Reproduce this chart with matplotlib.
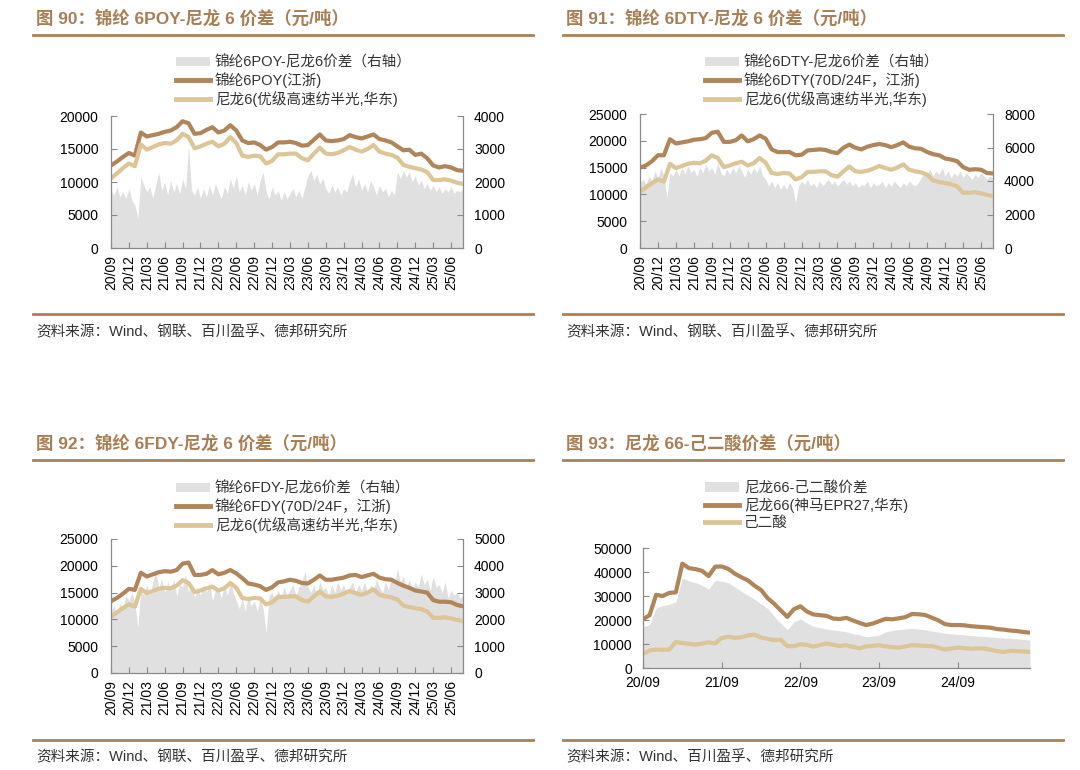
import numpy as np
import matplotlib.pyplot as plt
from matplotlib.patches import Patch
from matplotlib.lines import Line2D

plt.rcParams['font.family'] = ['Liberation Sans', 'Noto Sans CJK SC']

W, H = 1080, 770
BROWN = '#B0855A'
TAN = '#DCC597'
GREY = '#E0E0E0'
RULE = '#A98159'
TITLE_C = '#A87E55'
AXC = '#8A8A8A'
TXT = '#333333'

# tick labels
quarter_labels = ['20/09', '20/12', '21/03', '21/06', '21/09', '21/12', '22/03', '22/06',
                  '22/09', '22/12', '23/03', '23/06', '23/09', '23/12', '24/03', '24/06',
                  '24/09', '24/12', '25/03', '25/06']
year_labels = ['20/09', '21/09', '22/09', '23/09', '24/09']

# monthly prices, 20/09 .. 25/08 (yuan/t)
nylon6 = [10550, 11300, 12100, 12800, 12400, 15700, 14900, 15300, 15700, 15900, 15800, 16300,
          17300, 16800, 15100, 15400, 15800, 16100, 15400, 15800, 16800, 15900, 14000, 13800,
          14000, 13900, 12800, 13200, 14200, 14200, 14300, 14300, 13600, 13300, 14300, 15200,
          14300, 14200, 14400, 14800, 15300, 14900, 14600, 15000, 15600, 14600, 14300, 14100,
          13700, 12600, 12300, 12100, 11900, 11500, 10300, 10300, 10400, 10200, 9900, 9700]

poy = [12500, 13100, 13800, 14400, 14000, 17500, 16900, 17100, 17300, 17600, 17800, 18300,
       19200, 18900, 17300, 17400, 17900, 18300, 17500, 17800, 18600, 17800, 16300, 15900,
       16000, 15600, 14900, 15300, 16000, 16000, 16100, 15900, 15500, 15600, 16400, 17200,
       16300, 16200, 16300, 16500, 17100, 16800, 16600, 16900, 17200, 16500, 16300, 16000,
       15400, 14800, 14900, 14100, 14300, 13600, 12500, 12200, 12400, 12200, 11800, 11700]

dty = [15000, 15400, 16200, 17300, 17300, 20300, 19500, 19700, 19900, 20200, 20300, 20500,
       21500, 21700, 19800, 19800, 20100, 21000, 19900, 20300, 21000, 20400, 18400, 17900,
       17900, 17900, 17300, 17400, 18200, 18300, 18400, 18300, 17900, 17700, 18700, 19300,
       18700, 18400, 18900, 19200, 19400, 19200, 18800, 19200, 19700, 18900, 18600, 18500,
       17900, 17500, 17300, 16700, 16500, 16200, 15100, 14600, 14700, 14600, 14000, 13900]

fdy = [13400, 14000, 14800, 15700, 15500, 18700, 18000, 18400, 18800, 19000, 18900, 19200,
       20400, 20600, 18300, 18300, 18500, 19200, 18400, 18700, 19200, 18600, 17700, 16700,
       16500, 16200, 15500, 16000, 16900, 17100, 17400, 17200, 16800, 16700, 17400, 18200,
       17400, 17400, 17600, 17800, 18200, 18300, 17900, 18200, 18500, 17800, 17500, 17400,
       16800, 16300, 15900, 15400, 15200, 15000, 13600, 13300, 13300, 13200, 12700, 12450]

# half-monthly spreads (right axis)
poy_spread = [1750, 1600, 1850, 1550, 1700, 1500, 1800, 1450, 1300, 900, 2150, 1900,
              1700, 1850, 1500, 1900, 2300, 1750, 2000, 1600, 2050, 1700, 1950, 1650,
              2100, 1800, 3100, 1750, 1600, 1850, 1500, 1800, 1550, 1900, 1600, 1950,
              1700, 1500, 1850, 1650, 2100, 1800, 2200, 1700, 1900, 1600, 2000, 1750,
              1950, 1600, 2050, 2300, 1700, 1500, 1850, 1600, 1750, 1450, 1700, 1500,
              1650, 1800, 1550, 1750, 1500, 1850, 2200, 2350, 2050, 2250, 1950, 2100,
              1800, 1650, 1900, 1700, 1850, 1600, 1800, 1700, 2000, 2250, 1850, 2100,
              1750, 1950, 1700, 2050, 1850, 1600, 1900, 1700, 1800, 1550, 1750, 1600,
              2300, 2100, 2350, 2150, 2300, 2000, 2200, 1900, 2050, 1800, 1950, 1750,
              1900, 1700, 1850, 1650, 1800, 1700, 1850, 1650, 1750, 1700, 1800]

dty_spread = [3900, 4100, 3800, 4300, 4000, 4600, 4200, 4800, 4300, 3000, 4500, 4300,
              4700, 4300, 4800, 4400, 4900, 4500, 4700, 4300, 4800, 4500, 5000, 4600,
              4800, 4400, 5100, 4500, 4300, 4700, 4400, 4800, 4500, 4900, 4600, 4200,
              4700, 4400, 4800, 4500, 4900, 4300, 4100, 3700, 4000, 3600, 3900, 3500,
              3800, 3500, 3900, 3600, 2700, 3700, 4000, 3800, 4100, 3700, 3900, 3600,
              4000, 3700, 3900, 4100, 3800, 4000, 3700, 3900, 4100, 3800, 4000, 3700,
              3900, 3600, 3800, 3700, 4000, 3600, 3900, 3700, 3800, 4000, 3600, 3900,
              3700, 4000, 3800, 3600, 3900, 3700, 4000, 3800, 3700, 3900, 4200, 4500,
              4400, 4700, 4300, 4600, 4400, 4800, 4300, 4600, 4200, 4500, 4300, 4600,
              4200, 4500, 4300, 4100, 4400, 4200, 4500, 4300, 4100, 4300, 4200]

fdy_spread = [2300, 2500, 2200, 2600, 2400, 2900, 2700, 3000, 2600, 1700, 3100, 2900,
              3300, 2900, 3400, 3800, 3200, 3500, 3000, 3400, 3100, 3500, 2900, 3300,
              3200, 3700, 3000, 3400, 2800, 3200, 2900, 3300, 3000, 3400, 2700, 3100,
              3200, 2800, 3300, 2900, 3400, 3000, 2700, 2400, 2800, 2300, 2900, 2500,
              2700, 2300, 2800, 2400, 1500, 2900, 3000, 2700, 3100, 2800, 3200, 2900,
              3100, 3300, 2900, 3200, 3400, 3800, 3200, 3000, 3300, 2900, 3400, 3100,
              3200, 2900, 3300, 3000, 3400, 3100, 3300, 2900, 3200, 3400, 3000, 3300,
              3100, 3400, 3000, 3300, 3100, 3500, 3200, 3000, 3400, 3100, 3600, 3300,
              3900, 3400, 3600, 3200, 3500, 3100, 3400, 3200, 3700, 3300, 3500, 3100,
              3600, 3200, 3300, 3000, 3400, 2800, 3100, 2900, 3000, 2800, 2900]

# nylon 66 / adipic acid, monthly
pa66 = [20300, 22000, 30500, 30000, 31300, 31500, 43500, 41600, 41200, 40500, 38300, 42200,
        42300, 41300, 39300, 37800, 36500, 34300, 32500, 29100, 26800, 24000, 21300, 24500,
        25700, 23500, 22300, 22000, 21700, 20600, 20400, 20900, 19800, 18800, 17900, 18500,
        19500, 20500, 20300, 20700, 21200, 22500, 22400, 22100, 21000, 19900, 18300, 17900,
        17900, 17800, 17400, 17200, 17000, 16800, 16200, 16000, 15600, 15400, 15000, 14700]

adipic = [5800, 7300, 7700, 7600, 7700, 10800, 10400, 10100, 9700, 10200, 10700, 10300,
          12500, 13000, 12600, 12800, 13600, 13900, 12700, 12100, 11600, 11800, 9100, 9100,
          9900, 9600, 8900, 9600, 10200, 9700, 9100, 9500, 8800, 8200, 9000, 9200,
          9500, 9000, 8700, 8500, 9000, 9500, 9400, 9200, 9100, 8500, 7700, 8100,
          8500, 8300, 8000, 8200, 8100, 7600, 7000, 6700, 7100, 7000, 6900, 6700]

pa66_spread = [17200, 18000, 25000, 26000, 26500, 27500, 37500, 36300, 35600, 34500, 32800, 36500,
               36200, 35500, 33800, 32000, 30300, 28700, 26800, 24800, 21500, 18600, 15900, 19200,
               20500, 18700, 17300, 16800, 16200, 15800, 15500, 15100, 14300, 13800, 13000, 13300,
               13700, 15100, 15600, 16000, 16300, 16500, 16200, 15900, 15400, 15000, 14500, 14200,
               14000, 13800, 13500, 13300, 13100, 12900, 12700, 12500, 12300, 12200, 11900, 11600]


def fx(px):
    return px / W


def fy(py):
    return 1 - py / H


fig = plt.figure(figsize=(W / 100, H / 100), dpi=100)


def header(x0, y_title, y_rule, title):
    fig.text(fx(x0 + 3), fy(y_title), title, fontsize=12.5, fontweight='bold',
             color=TITLE_C, ha='left', va='center')
    fig.add_artist(Line2D([fx(x0), fx(x0 + 500)], [fy(y_rule)] * 2, color=RULE, lw=2))


def footer(x0, y_rule, y_text, text):
    fig.add_artist(Line2D([fx(x0), fx(x0 + 500)], [fy(y_rule)] * 2, color=RULE, lw=2))
    fig.text(fx(x0 + 3), fy(y_text), text, fontsize=10.5, color=TXT, ha='left', va='center')


def legend(x, y, labels):
    handles = [Patch(facecolor=GREY, edgecolor='none'),
               Line2D([], [], color=BROWN, lw=3.5),
               Line2D([], [], color=TAN, lw=3.5)]
    fig.legend(handles, labels, loc='upper left', bbox_to_anchor=(fx(x), fy(y)),
               frameon=False, fontsize=10.5, handlelength=2.3, handletextpad=0.35,
               handleheight=0.6, labelspacing=0.2, borderpad=0, borderaxespad=0,
               labelcolor=TXT)


def style_spines(ax, show):
    for side in ['top', 'bottom', 'left', 'right']:
        ax.spines[side].set_visible(side in show)
        ax.spines[side].set_color(AXC)
        ax.spines[side].set_linewidth(0.9)


def spread_panel(rect, top_line, spread, lmax, rmax, rstep):
    ax = fig.add_axes(rect)
    ax2 = ax.twinx()
    xs = np.arange(len(spread)) * 0.5
    ax2.fill_between(xs, 0, spread, color=GREY, lw=0)
    m = np.arange(len(top_line))
    ax.plot(m, top_line, color=BROWN, lw=3)
    ax.plot(m, nylon6, color=TAN, lw=3)
    ax.set_zorder(ax2.get_zorder() + 1)
    ax.patch.set_visible(False)

    ax.set_xlim(0, 59)
    ax.set_ylim(0, lmax)
    ax2.set_ylim(0, rmax)
    ax.set_yticks(np.arange(0, lmax + 1, 5000))
    ax2.set_yticks(np.arange(0, rmax + 1, rstep))
    ax.set_xticks(np.arange(0, 58, 3))
    ax.set_xticklabels(quarter_labels, rotation=90)

    style_spines(ax, ['left', 'bottom'])
    style_spines(ax2, ['right'])
    ax.tick_params(axis='y', direction='in', length=4, color=AXC, labelsize=10, pad=9)
    ax.tick_params(axis='x', direction='in', length=4, color=AXC, labelsize=10, pad=5)
    ax2.tick_params(axis='y', direction='in', length=4, color=AXC, labelsize=10, pad=8)
    return ax


# panel 90
header(33, 18, 35, '图 90：锦纶 6POY-尼龙 6 价差（元/吨）')
legend(176, 55, ['锦纶6POY-尼龙6价差（右轴）', '锦纶6POY(江浙)', '尼龙6(优级高速纺半光,华东)'])
spread_panel([fx(111), fy(248), fx(463) - fx(111), fy(116) - fy(248)],
             poy, poy_spread, 20000, 4000, 1000)
footer(33, 314, 332, '资料来源：Wind、钢联、百川盈孚、德邦研究所')

# panel 91
header(563, 18, 35, '图 91：锦纶 6DTY-尼龙 6 价差（元/吨）')
legend(705, 55, ['锦纶6DTY-尼龙6价差（右轴）', '锦纶6DTY(70D/24F，江浙)', '尼龙6(优级高速纺半光,华东)'])
spread_panel([fx(640), fy(248), fx(993) - fx(640), fy(114) - fy(248)],
             dty, dty_spread, 25000, 8000, 2000)
footer(563, 314, 332, '资料来源：Wind、钢联、百川盈孚、德邦研究所')

# panel 92
header(33, 443, 460, '图 92：锦纶 6FDY-尼龙 6 价差（元/吨）')
legend(176, 481, ['锦纶6FDY-尼龙6价差（右轴）', '锦纶6FDY(70D/24F，江浙)', '尼龙6(优级高速纺半光,华东)'])
spread_panel([fx(111), fy(673), fx(463) - fx(111), fy(539) - fy(673)],
             fdy, fdy_spread, 25000, 5000, 1000)
footer(33, 740, 757, '资料来源：Wind、钢联、百川盈孚、德邦研究所')

# panel 93
header(563, 443, 460, '图 93：尼龙 66-己二酸价差（元/吨）')
legend(705, 481, ['尼龙66-己二酸价差', '尼龙66(神马EPR27,华东)', '己二酸'])
ax4 = fig.add_axes([fx(643), fy(668), fx(1030) - fx(643), fy(548) - fy(668)])
m = np.arange(len(pa66))
ax4.fill_between(m, 0, pa66_spread, color=GREY, lw=0)
ax4.plot(m, pa66, color=BROWN, lw=3)
ax4.plot(m, adipic, color=TAN, lw=3)
ax4.set_xlim(0, 59)
ax4.set_ylim(0, 50000)
ax4.set_yticks(np.arange(0, 50001, 10000))
ax4.set_xticks(np.arange(0, 49, 12))
ax4.set_xticklabels(year_labels)
style_spines(ax4, ['left', 'bottom'])
ax4.tick_params(axis='y', direction='in', length=4, color=AXC, labelsize=10, pad=8)
ax4.tick_params(axis='x', direction='in', length=4, color=AXC, labelsize=10, pad=6)
footer(563, 740, 757, '资料来源：Wind、百川盈孚、德邦研究所')

fig.savefig('out.png', dpi=100)
